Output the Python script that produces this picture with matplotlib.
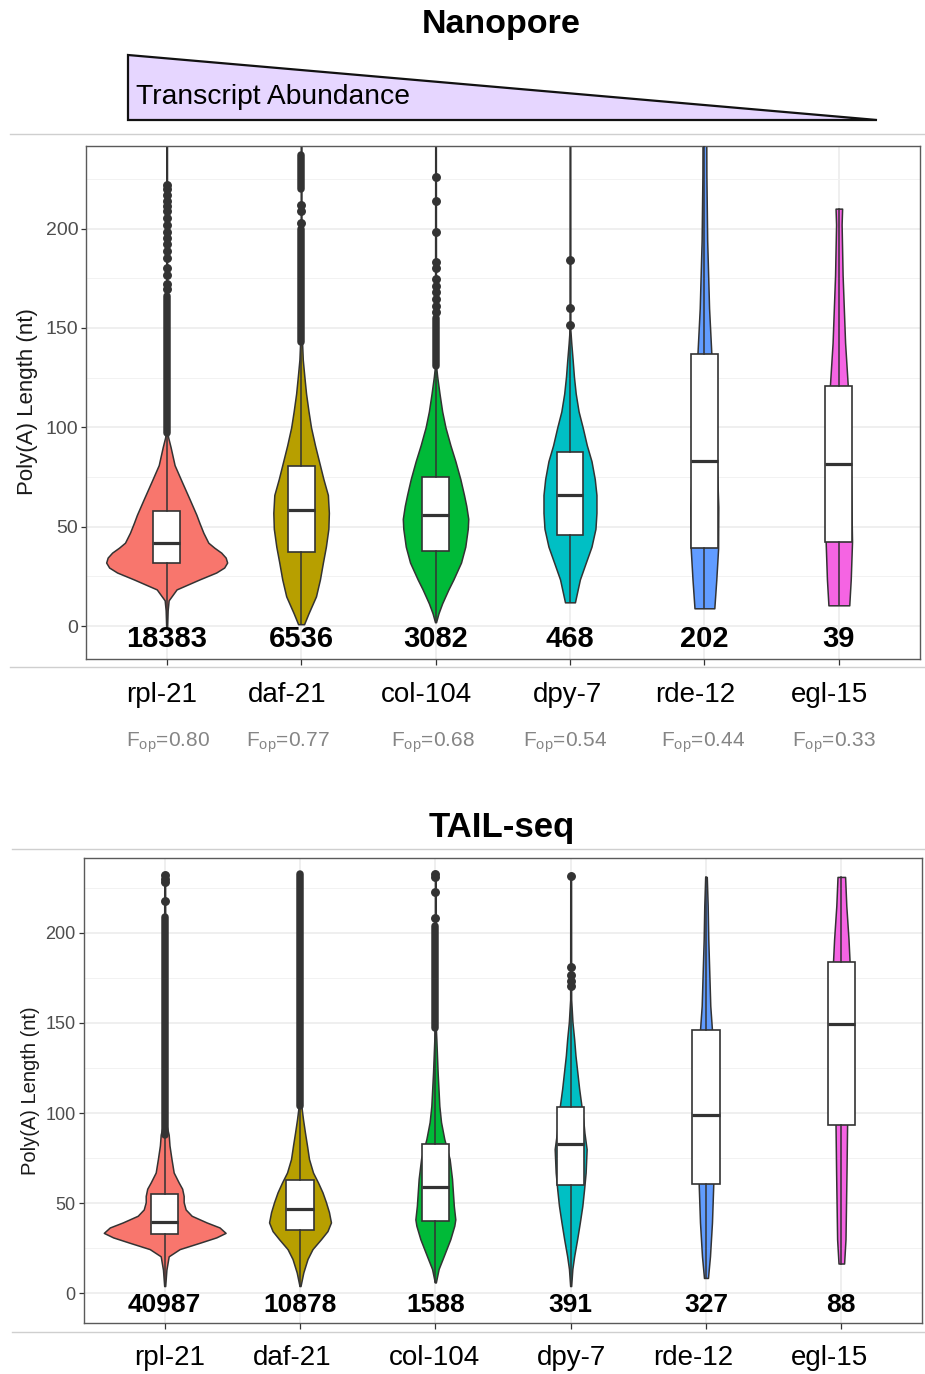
import numpy as np
import matplotlib
matplotlib.use("Agg")
import matplotlib.pyplot as plt
from matplotlib.patches import Polygon

plt.rcParams['font.family'] = ['Liberation Sans', 'DejaVu Sans']
plt.rcParams['mathtext.fontset'] = 'custom'
plt.rcParams['mathtext.rm'] = 'Liberation Sans'

genes = ['rpl-21', 'daf-21', 'col-104', 'dpy-7', 'rde-12', 'egl-15']
colors = ['#F8766D', '#B79F00', '#00BA38', '#00BFC4', '#619CFF', '#F564E3']
f_op = [0.80, 0.77, 0.68, 0.54, 0.44, 0.33]

# ---- Nanopore ----
np_counts = [18383, 6536, 3082, 468, 202, 39]
# whisker low, q1, median, q3, whisker high
np_box = [
    (0.5, 32, 42, 58, 96),
    (1, 37.5, 58.5, 80.5, 143),
    (2, 38, 56, 75, 130),
    (12, 46, 66, 87.5, 149),
    (9, 39.5, 83, 137, 260),
    (10.5, 42.5, 81.5, 121, 210),
]
# violin density profiles: (poly(A) length, relative density)
np_violin = [
    [(0, 0.5), (8, 1), (13, 2), (18.5, 10), (23.5, 33), (27, 50), (29.5, 58),
     (32, 61), (34.5, 59.5), (37, 55), (39.5, 48), (42, 42), (47, 37),
     (52, 33), (56, 30), (64, 23), (73, 15), (81, 8), (90, 4), (95, 1.5),
     (100, 0.5), (260, 0.3)],
    [(1, 3), (6.5, 7.5), (15, 15), (23.5, 19), (32, 22), (40, 25), (49, 27.5),
     (57, 28), (66, 27), (74, 22.5), (83, 18), (91, 14), (100, 10), (108, 7.5),
     (117, 5), (125.5, 3.3), (134, 1.7), (142.5, 1), (150, 0.4), (260, 0.3)],
    [(2, 0.5), (6.5, 3), (11.5, 6.7), (18.5, 13), (23.5, 18), (32, 25.7),
     (40, 30), (49, 32.5), (54, 33), (60.5, 31), (66, 28.7), (74, 25), (83, 20),
     (91, 15), (100, 10), (108, 6.7), (117, 4), (125.5, 1.7), (131, 0.5),
     (260, 0.3)],
    [(12, 5), (23.5, 10), (32, 16), (40, 21.7), (49, 25.7), (57, 26.7),
     (66, 26.7), (74, 25), (83, 21.7), (91, 17), (100, 12.8), (108, 8.7),
     (117, 5.8), (125.5, 4), (134, 2.7), (142.5, 1.3), (149, 0.4), (260, 0.3)],
    [(9, 10), (23.5, 12), (39, 13.8), (60, 14), (90, 12), (120, 9), (137, 7),
     (160, 4.7), (194, 2.8), (227, 2), (260, 1.8)],
    [(10.5, 10.5), (23.5, 12), (42.5, 13.3), (80, 12), (121, 9), (142.5, 6.3),
     (176.5, 3.8), (202, 2.8), (210, 3.3)],
]
# outliers: dense runs (low, high) and single points
np_out_runs = [[(97, 166)], [(143, 200), (220, 237)], [(131, 155)], [], [], []]
np_out_pts = [
    [169.5, 172, 176.5, 180, 185, 188.5, 192, 195, 198.5, 202, 205.5, 209,
     211.5, 214, 217, 220, 222],
    [203, 209, 212],
    [158, 161, 164.5, 168, 171, 174.5, 180, 183, 198.5, 214, 226],
    [151.5, 160, 184],
    [],
    [],
]

# ---- TAIL-seq ----
ts_counts = [40987, 10878, 1588, 391, 327, 88]
ts_box = [
    (4, 33, 39.3, 55, 88),
    (4, 35, 47, 63, 104),
    (6, 40, 59, 83, 147),
    (4, 60, 83, 103.5, 163),
    (8.5, 60.5, 99, 146, 231),
    (16.5, 93.5, 149.5, 184, 231),
]
ts_violin = [
    [(4, 0.5), (13, 1.7), (20.5, 4), (24.5, 15), (28, 35), (31, 51.7),
     (33.5, 61), (36.5, 55), (39.3, 42), (43, 27), (46.5, 21), (50.5, 19),
     (54, 19), (58, 17.5), (61.5, 14), (67, 9), (74.5, 6.8), (82, 4.8),
     (88, 4), (95, 1), (232, 0.4)],
    [(4, 0.5), (11.5, 3.3), (19, 7.5), (24.5, 12.5), (30, 21), (34.5, 27.5),
     (39.3, 31), (45, 29), (50.5, 26), (56, 22.5), (61.5, 18), (67, 13),
     (74.5, 9), (82, 7), (89, 5), (96.5, 3), (104, 1.3), (232, 0.4)],
    [(6, 0.5), (13.5, 3.3), (20.5, 8.3), (30, 15), (37.5, 19), (41, 20),
     (48.5, 18.5), (63.5, 16.7), (74.5, 14.3), (85.5, 9), (95, 5.7), (104, 4),
     (122.5, 2.3), (141, 1), (147, 0.5), (232, 0.4)],
    [(4, 0.5), (13.5, 1.7), (20.5, 3.5), (30, 6.5), (39.3, 9.2), (48.5, 11.7),
     (58, 13.5), (67, 15), (80, 16), (89, 13.8), (95, 12.8), (104, 10.8),
     (113.5, 8.5), (122.5, 6.7), (132, 4.8), (141, 3.5), (150.5, 1.8),
     (163, 0.5), (231, 0.4)],
    [(8.5, 2), (20.5, 4), (39.3, 6), (60.5, 7.3), (100, 7.8), (146, 6),
     (159.5, 4.3), (178, 3.3), (196.5, 2.3), (215, 1.7), (231, 0.8)],
    [(16.5, 2.8), (30, 4.2), (67, 5.2), (93.5, 5.8), (150, 8), (184, 8.3),
     (196.5, 7.2), (215, 5), (231, 3.8)],
]
ts_out_runs = [[(88, 209)], [(104, 232.5)], [(147, 204)], [], [], []]
ts_out_pts = [
    [217.5, 228, 230, 232],
    [],
    [208, 222.5, 231, 232.5],
    [170.5, 173.5, 176.5, 181, 231.5],
    [],
    [],
]

W, H = 925, 1374
fig = plt.figure(figsize=(W / 100, H / 100), dpi=100)

# page-level overlay in pixel units for titles, rules and the label rows
bg = fig.add_axes([0, 0, 1, 1])
bg.set_xlim(0, W)
bg.set_ylim(H, 0)
bg.axis('off')

DARK = '#333333'
dmax = max(max(d for _, d in v) for v in np_violin + ts_violin)


def draw_panel(ax, violins, boxes, counts, runs, pts, count_size, tick_size):
    ax.set_xlim(0.4, 6.6)
    ax.set_ylim(-16.5, 241.5)
    ax.set_axisbelow(True)
    ax.set_yticks([0, 50, 100, 150, 200])
    ax.set_yticks([25, 75, 125, 175, 225], minor=True)
    ax.set_xticks(range(1, 7))
    ax.set_xticklabels([])
    ax.grid(True, which='major', color='#EBEBEB', lw=1.1)
    ax.grid(True, which='minor', axis='y', color='#F2F2F2', lw=0.7)
    ax.tick_params(axis='y', which='major', length=3.5, width=0.9,
                   color=DARK, labelsize=tick_size, labelcolor='#4D4D4D', pad=2)
    ax.tick_params(axis='y', which='minor', length=0)
    ax.tick_params(axis='x', length=4.5, width=0.9, color=DARK)
    for s in ax.spines.values():
        s.set_color('#5A5A5A')
        s.set_linewidth(1.0)

    for i, prof in enumerate(violins):
        x = i + 1
        y = np.array([p[0] for p in prof])
        w = np.array([p[1] for p in prof]) / dmax * 0.45
        ax.fill_betweenx(y, x - w, x + w, facecolor=colors[i],
                         edgecolor=DARK, lw=1.1, zorder=2)

    stats = [dict(whislo=b[0], q1=b[1], med=b[2], q3=b[3], whishi=b[4],
                  fliers=pts[i]) for i, b in enumerate(boxes)]
    ax.bxp(stats, positions=range(1, 7), widths=0.2, patch_artist=True,
           showcaps=False, manage_ticks=False,
           boxprops=dict(facecolor='white', edgecolor=DARK, lw=1.2),
           whiskerprops=dict(color=DARK, lw=1.1),
           medianprops=dict(color=DARK, lw=2.3, solid_capstyle='butt'),
           flierprops=dict(marker='o', markerfacecolor=DARK,
                           markeredgecolor=DARK, markersize=5.4),
           zorder=3)
    for i, rr in enumerate(runs):
        for lo, hi in rr:
            ax.plot([i + 1, i + 1], [lo, hi], color=DARK, lw=5.4,
                    solid_capstyle='round', zorder=4)

    for i, n in enumerate(counts):
        ax.text(i + 1, -10.5, str(n), ha='center', va='baseline',
                fontsize=count_size, fontweight='bold', zorder=5)


# Nanopore panel
ax1 = fig.add_axes([86 / W, 1 - 659 / H, 833.5 / W, 513 / H])
draw_panel(ax1, np_violin, np_box, np_counts, np_out_runs, np_out_pts, 21, 14)

# TAIL-seq panel
ax2 = fig.add_axes([83.5 / W, 1 - 1323 / H, 839 / W, 465 / H])
draw_panel(ax2, ts_violin, ts_box, ts_counts, ts_out_runs, ts_out_pts, 19, 13)

# titles, separators and abundance wedge
bg.text(501, 25, 'Nanopore', ha='center', va='center', fontsize=24.5,
        fontweight='bold')
bg.text(502, 828, 'TAIL-seq', ha='center', va='center', fontsize=25,
        fontweight='bold')
for y0, x0 in [(134, 10), (667, 10), (849, 12), (1332, 12)]:
    bg.plot([x0, W], [y0, y0], color='#CFCFCF', lw=1.0)
bg.add_patch(Polygon([(128, 55), (128, 120), (877, 120)], closed=True,
                     facecolor='#E6D6FF', edgecolor='#111111', lw=1.6))
bg.text(136, 97, 'Transcript Abundance', ha='left', va='center', fontsize=20.3)

# y-axis titles
bg.text(28, 402, 'Poly(A) Length (nt)', rotation=90, ha='center', va='center',
        fontsize=16, color='#1A1A1A')
bg.text(31, 1091, 'Poly(A) Length (nt)', rotation=90, ha='center', va='center',
        fontsize=14.5, color='#1A1A1A')

# gene name rows and F_op values
top_label_x = [162, 287, 427, 567, 695, 830]
fop_x = [126, 246, 391, 523, 661, 792]
bot_label_x = [170, 292, 435, 571, 693, 830]
for g, xg, xf, v, xb in zip(genes, top_label_x, fop_x, f_op, bot_label_x):
    bg.text(xg, 702, g, ha='center', va='baseline', fontsize=20)
    bg.text(xf, 746, r'F$_{\mathrm{op}}$=%.2f' % v, ha='left', va='baseline',
            fontsize=15, color='#858585')
    bg.text(xb, 1365, g, ha='center', va='baseline', fontsize=20)

fig.savefig('out.png', dpi=100)
